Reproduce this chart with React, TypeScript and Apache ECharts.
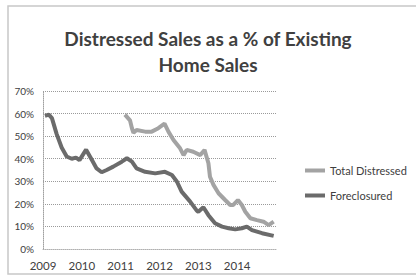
import React, { useEffect, useRef } from "react";
import * as echarts from "echarts";

const titleText = "Distressed Sales as a % of Existing\nHome Sales";
const seriesNames = ["Total Distressed", "Foreclosured"];
const xTickLabels = ["2009", "2010", "2011", "2012", "2013", "2014"];
const yTickValues = [0, 10, 20, 30, 40, 50, 60, 70];

const totalYears = [
  2011.11, 2011.24, 2011.29, 2011.33, 2011.41, 2011.63, 2011.8, 2011.97, 2012.13,
  2012.23, 2012.36, 2012.53, 2012.62, 2012.7, 2012.87, 2013.05, 2013.16, 2013.26,
  2013.3, 2013.39, 2013.52, 2013.69, 2013.82, 2013.9, 2014.02, 2014.12, 2014.21,
  2014.34, 2014.51, 2014.68, 2014.81, 2014.94,
];
const totalPct = [
  59.5, 57, 53.5, 51.5, 52.7, 52, 52, 53.5, 55.5,
  52, 48.3, 44.6, 41.6, 43.9, 43.1, 41.6, 43.9, 38,
  32, 28.4, 24.7, 21.7, 19.5, 19.5, 21.7, 19.5, 16.5,
  13.6, 12.8, 12.1, 10.6, 12.1,
];

const foreclosuredYears = [
  2009.05, 2009.15, 2009.23, 2009.35, 2009.48, 2009.61, 2009.74, 2009.85, 2009.94,
  2010.11, 2010.26, 2010.38, 2010.51, 2010.64, 2010.81, 2011.03, 2011.16, 2011.29,
  2011.41, 2011.63, 2011.89, 2012.14, 2012.32, 2012.45, 2012.57, 2012.79, 2012.96,
  2013.0, 2013.13, 2013.26, 2013.43, 2013.61, 2013.78, 2013.95, 2014.12, 2014.25,
  2014.38, 2014.64, 2014.94,
];
const foreclosuredPct = [
  59, 59.5, 58, 51, 45, 41, 40, 40.5, 39.4,
  44, 39.4, 35.7, 34, 35, 36.5, 38.7, 40.2, 38.7,
  35.7, 34.2, 33.5, 34.2, 32.8, 29.8, 25.4, 21, 17,
  16.5, 18.5, 15, 11.4, 9.9, 9.2, 8.7, 9.2, 9.9,
  8.4, 7, 5.8,
];

const colors = ["#a3a3a3", "#6b6b6b"];
const font = "Lato, 'Open Sans', sans-serif";

export default function App() {
  const ref = useRef<HTMLDivElement>(null);
  useEffect(() => {
    if (!ref.current) return;
    const chart = echarts.init(ref.current, null, { renderer: "svg" });
    const pairs = (xs: number[], ys: number[]) => xs.map((x, i) => [x, ys[i]]);
    chart.setOption({
      animation: false,
      backgroundColor: "#ffffff",
      title: {
        text: titleText,
        left: "center",
        top: 20,
        textStyle: {
          fontFamily: font,
          fontSize: 19,
          fontWeight: "bold",
          color: "#404040",
          lineHeight: 26,
        },
      },
      graphic: [
        {
          type: "rect",
          shape: { x: 8, y: 6, width: 420, height: 268 },
          style: { fill: "none", stroke: "#c8c8c8", lineWidth: 1.5 },
          silent: true,
        },
      ],
      legend: {
        orient: "vertical",
        left: 300,
        top: 160,
        itemGap: 14,
        itemWidth: 20,
        itemHeight: 4,
        icon: "rect",
        data: seriesNames,
        textStyle: { fontFamily: font, fontSize: 11, color: "#404040" },
      },
      grid: { left: 43, right: 140, top: 91, bottom: 29 },
      xAxis: {
        type: "value",
        min: 2009,
        max: 2015,
        interval: 1,
        axisLine: { show: true, lineStyle: { color: "#b0b0b0", type: "dotted" } },
        axisTick: { show: false },
        splitLine: { show: false },
        axisLabel: {
          margin: 10,
          fontFamily: font,
          fontSize: 11.5,
          color: "#404040",
          formatter: (v: number) => xTickLabels[Math.round(v) - 2009] ?? "",
        },
      },
      yAxis: {
        type: "value",
        min: yTickValues[0],
        max: yTickValues[yTickValues.length - 1],
        interval: 10,
        axisLine: { show: true, lineStyle: { color: "#a0a0a0", type: "dotted" } },
        axisTick: { show: false },
        splitLine: { show: true, lineStyle: { color: "#9a9a9a", type: "dotted" } },
        axisLabel: {
          margin: 9,
          fontFamily: font,
          fontSize: 10,
          color: "#404040",
          formatter: "{value}%",
        },
      },
      series: [
        {
          name: seriesNames[0],
          type: "line",
          data: pairs(totalYears, totalPct),
          showSymbol: false,
          color: colors[0],
          lineStyle: { width: 4, color: colors[0] },
        },
        {
          name: seriesNames[1],
          type: "line",
          data: pairs(foreclosuredYears, foreclosuredPct),
          showSymbol: false,
          color: colors[1],
          lineStyle: { width: 4, color: colors[1] },
        },
      ],
    });
    return () => chart.dispose();
  }, []);
  return (
    <div
      ref={ref}
      style={{ position: "fixed", left: 0, top: 0, width: 416, height: 278 }}
    />
  );
}
